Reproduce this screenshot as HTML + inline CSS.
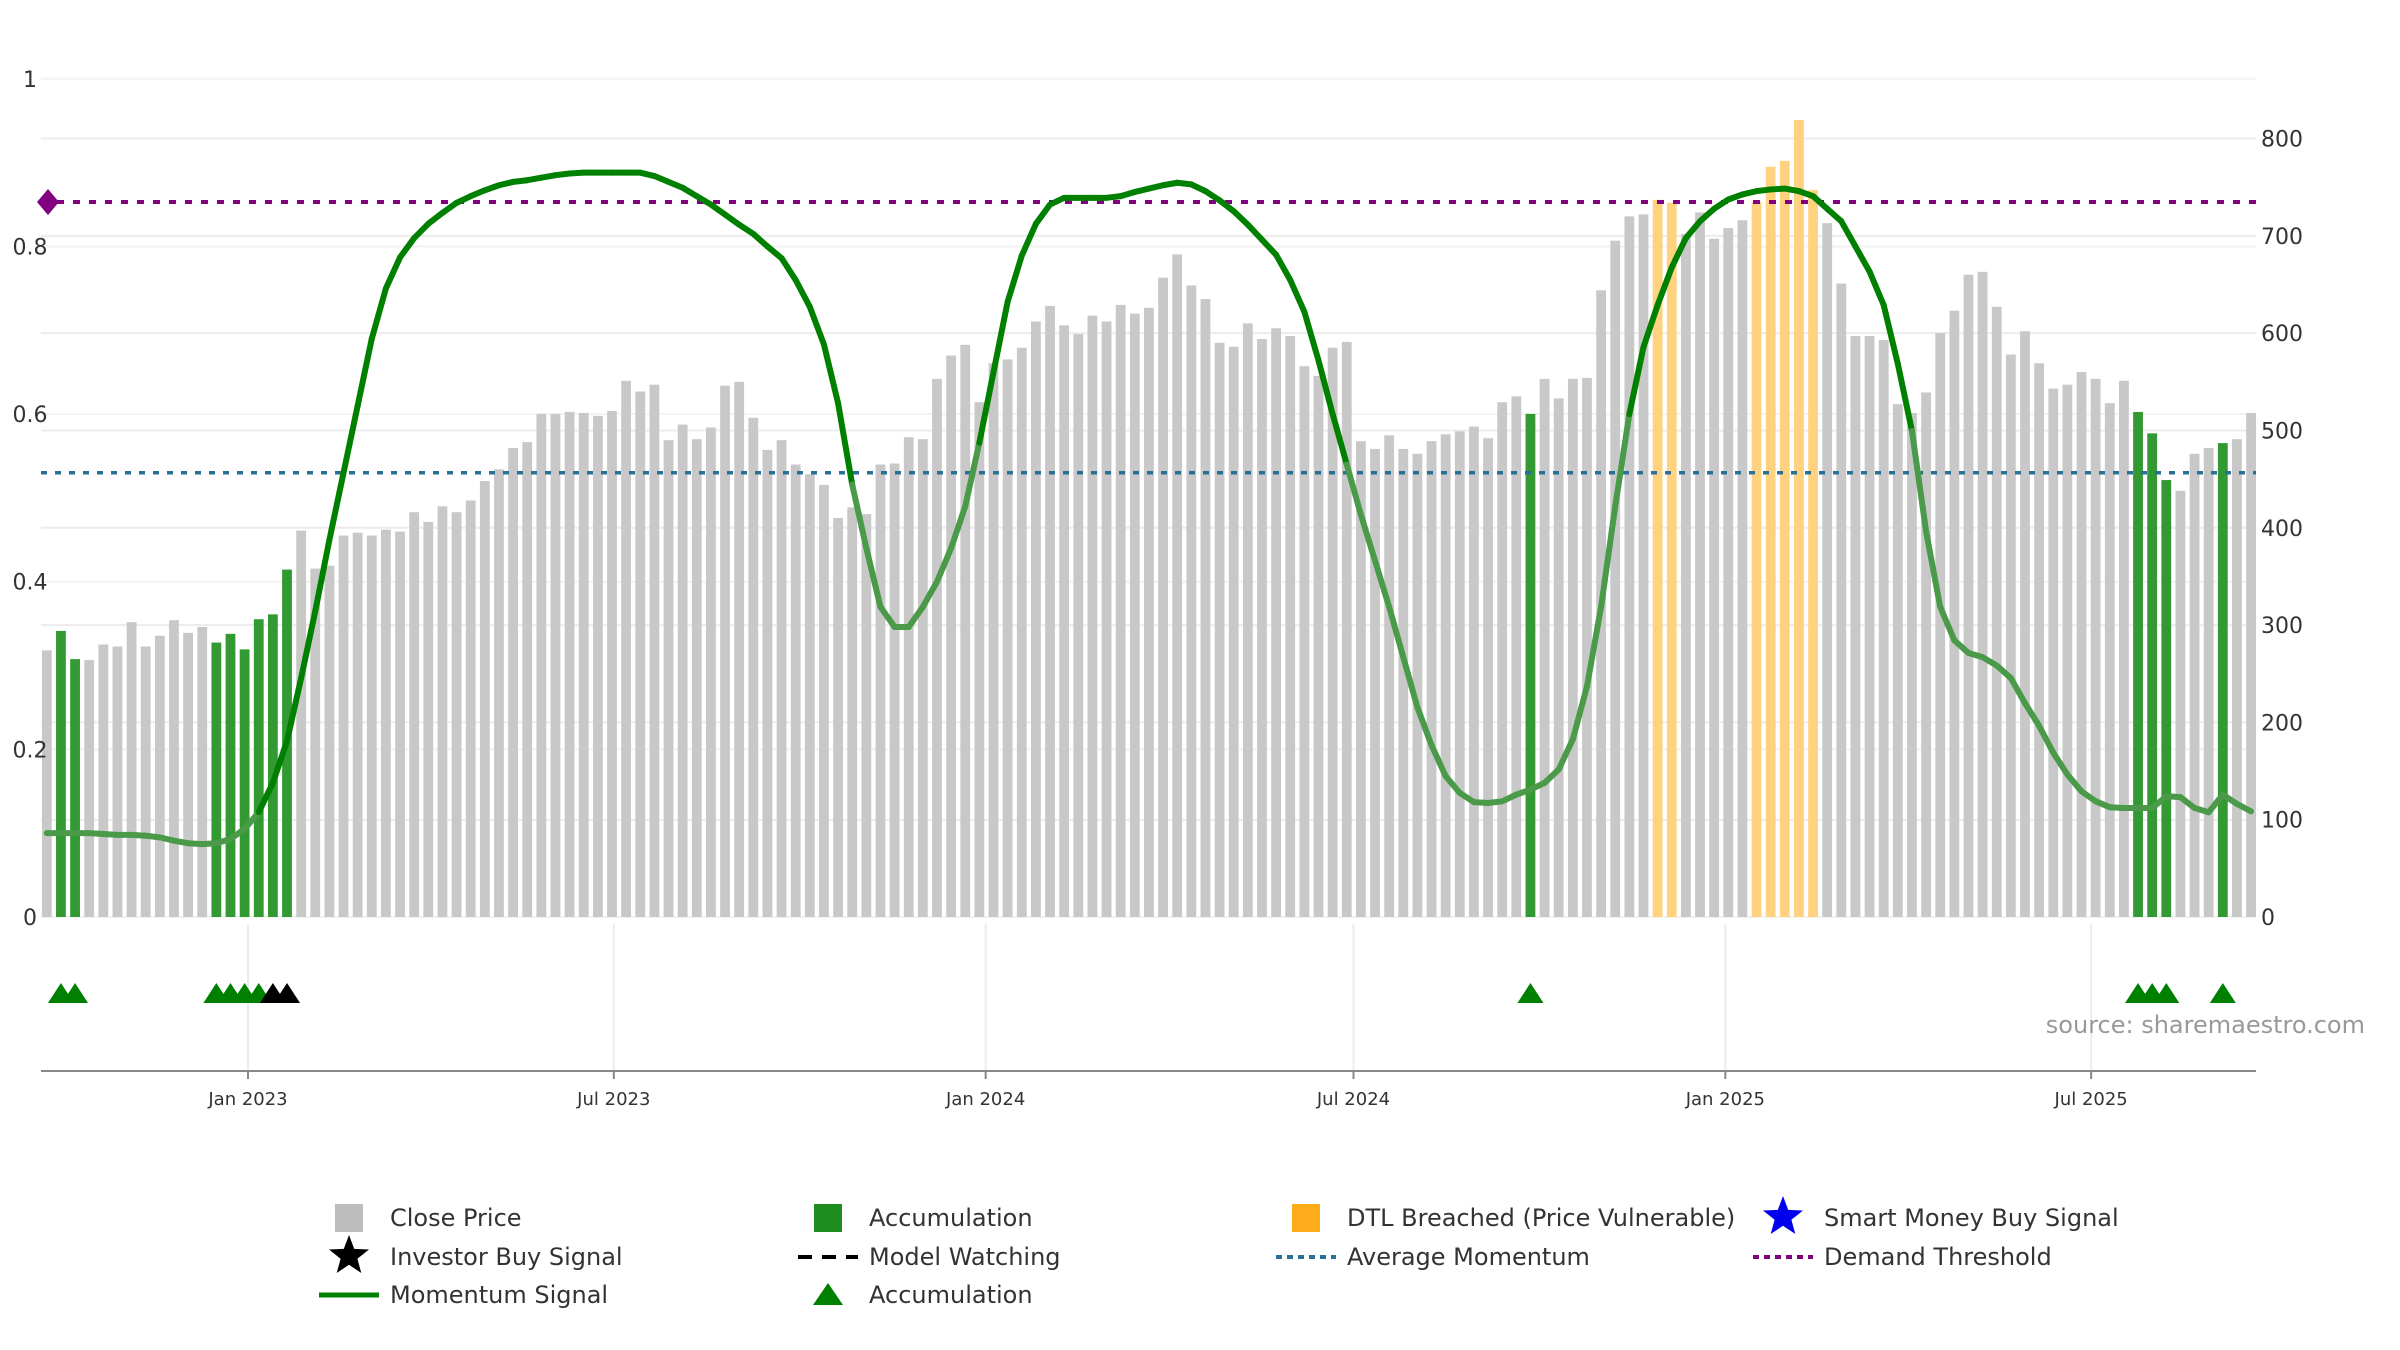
<!DOCTYPE html>
<html><head><meta charset="utf-8">
<style>
html,body{margin:0;padding:0;background:#fff;}
svg{display:block;font-family:"DejaVu Sans","Liberation Sans",sans-serif;}
</style></head>
<body>
<svg id="chart" width="2400" height="1350" viewBox="0 0 2400 1350" xmlns="http://www.w3.org/2000/svg">
<g id="grid"></g>
<g id="bars"></g>
<g id="lines"></g>
<g id="mom"></g>
<g id="lower"></g>
<g id="axes"></g>
<text x="2365" y="1033" text-anchor="end" font-size="24" fill="#999">source: sharemaestro.com</text>
<g id="legend"></g>
</svg>
<script>
const prices = [274,294,265,264,280,278,303,278,289,305,292,298,282,291,275,306,311,357,397,358,
361,392,395,392,398,396,416,406,422,416,428,448,460,482,488,517,517,519,518,515,
520,551,540,547,490,506,491,503,546,550,513,480,490,465,455,444,410,421,414,465,
466,493,491,553,577,588,529,569,573,585,612,628,608,599,618,612,629,620,626,657,
681,649,635,590,586,610,594,605,597,566,556,585,591,489,481,495,481,476,489,496,
499,504,492,529,535,517,553,533,553,554,644,695,720,722,737,734,702,724,697,708,
716,735,771,777,819,747,713,651,597,597,593,527,518,539,600,623,660,663,627,578,
602,569,543,547,560,553,528,551,519,497,449,438,476,482,487,491,518];
const momentum = [0.10,0.10,0.10,0.10,0.099,0.098,0.098,0.097,0.095,0.091,0.088,0.087,0.088,0.093,0.105,0.125,0.16,0.21,0.285,0.365,
0.45,0.53,0.61,0.69,0.75,0.787,0.81,0.827,0.84,0.852,0.86,0.867,0.873,0.877,0.879,0.882,0.885,0.887,0.888,0.888,
0.888,0.888,0.888,0.884,0.877,0.87,0.86,0.85,0.838,0.826,0.815,0.80,0.786,0.76,0.728,0.683,0.613,0.516,0.44,0.37,
0.346,0.346,0.37,0.40,0.44,0.49,0.566,0.65,0.734,0.789,0.827,0.85,0.858,0.858,0.858,0.858,0.86,0.865,0.869,0.873,
0.876,0.874,0.866,0.855,0.842,0.826,0.808,0.79,0.76,0.722,0.664,0.60,0.54,0.48,0.425,0.37,0.31,0.25,0.205,0.168,
0.148,0.137,0.136,0.138,0.146,0.152,0.16,0.176,0.212,0.275,0.37,0.49,0.60,0.68,0.73,0.775,0.81,0.83,0.845,0.856,
0.862,0.866,0.868,0.869,0.866,0.86,0.845,0.83,0.80,0.77,0.73,0.66,0.58,0.46,0.37,0.33,0.315,0.31,0.30,0.285,
0.255,0.228,0.196,0.17,0.15,0.138,0.131,0.13,0.13,0.13,0.144,0.143,0.13,0.125,0.146,0.135,0.126];
const accumBars = [1,2,12,13,14,15,16,17,105,148,149,150,154];
const dtlBars = [114,115,121,122,123,124,125];
const accumTriangles = [1,2,12,13,14,15,105,148,149,150,154];
const investorStars = [16,17];
const priceTicks = [0,100,200,300,400,500,600,700,800];
const momTicks = [0,0.2,0.4,0.6,0.8,1];
const momTickLabels = ["0","0.2","0.4","0.6","0.8","1"];
const dateTickLabels = ["Jan 2023","Jul 2023","Jan 2024","Jul 2024","Jan 2025","Jul 2025"];
const dateTickDays = [0,181,365,547,731,912];
const demandThreshold = 0.853;
const avgMomentum = 0.53;

const NS="http://www.w3.org/2000/svg";
const L=41,R=2256,Y0=917;
const xBar=i=>46.8+14.13*i;
const yP=v=>Y0-v*(Y0-138.5)/800;
const yM=v=>Y0-v*(Y0-78.8);
const xDay=d=>248+d*2.021;
function mk(tag,attrs,parent){const e=document.createElementNS(NS,tag);for(const k in attrs)e.setAttribute(k,attrs[k]);parent.appendChild(e);return e;}
const G=id=>document.getElementById(id);

priceTicks.forEach(v=>{const l=mk('line',{x1:L,x2:R,y1:yP(v),y2:yP(v),stroke:'#ececec','stroke-width':2},G('grid'));

});
momTicks.forEach(v=>{const l=mk('line',{x1:L,x2:R,y1:yM(v),y2:yM(v),stroke:'#f2f2f2','stroke-width':2},G('grid'));

});
dateTickDays.forEach(d=>{const l=mk('line',{x1:xDay(d),x2:xDay(d),y1:924,y2:1071,stroke:'#ececec','stroke-width':2},G('grid'));

});

prices.forEach((v,i)=>{
  let fill='#c8c8c8';
  if(accumBars.includes(i))fill='#339933';
  if(dtlBars.includes(i))fill='#ffd27f';
  const r=mk('rect',{x:xBar(i)-4.9,y:yP(v),width:9.8,height:Y0-yP(v),fill:fill},G('bars'));
  
  
});

const dl=mk('line',{x1:L,x2:R,y1:yM(demandThreshold),y2:yM(demandThreshold),stroke:'#800080','stroke-width':4,'stroke-dasharray':'7 9'},G('lines'));


const dm=mk('path',{d:`M${L+7} ${yM(demandThreshold)-13} l11 13 l-11 13 l-11 -13z`,fill:'#800080'},G('lines'));


const al=mk('line',{x1:L,x2:R,y1:yM(avgMomentum),y2:yM(avgMomentum),stroke:'#2a6f97','stroke-width':3.5,'stroke-dasharray':'6 8'},G('lines'));



for(let i=0;i<momentum.length-1;i++){
  const a=momentum[i],b=momentum[i+1];
  const light=Math.min(a,b)<0.5 && !(i>=15&&i<=20);
  const s=mk('line',{x1:xBar(i),y1:yM(a),x2:xBar(i+1),y2:yM(b),stroke:light?'#4a9a4a':'#008000','stroke-width':6,'stroke-linecap':'round'},G('mom'));
  
  
}

accumTriangles.forEach(i=>{const x=xBar(i);
  const t=mk('path',{d:`M${x-13} 1003 L${x} 983 L${x+13} 1003Z`,fill:'#008000'},G('lower'));
  
  });
investorStars.forEach(i=>{const x=xBar(i);
  const t=mk('path',{d:`M${x-13} 1003 L${x} 983 L${x+13} 1003Z`,fill:'#000'},G('lower'));
  
  });

const xa=mk('line',{x1:L,x2:R,y1:1071,y2:1071,stroke:'#888','stroke-width':2},G('axes'));


priceTicks.forEach(v=>{const t=mk('text',{x:2261,y:yP(v)+8,'font-size':22,fill:'#333'},G('axes'));t.textContent=v;

});
momTicks.forEach((v,k)=>{const t=mk('text',{x:30,y:yM(v)+8,'font-size':22,fill:'#333','text-anchor':'middle'},G('axes'));t.textContent=momTickLabels[k];

});
dateTickDays.forEach((d,k)=>{
  const tk=mk('line',{x1:xDay(d),x2:xDay(d),y1:1071,y2:1079,stroke:'#888','stroke-width':2},G('axes'));
  
  
  const t=mk('text',{x:xDay(d),y:1105,'font-size':18,fill:'#333','text-anchor':'middle'},G('axes'));t.textContent=dateTickLabels[k];
  
  });

const lg=G('legend');
function star(cx,cy,r,fill){let p='';for(let k=0;k<10;k++){const rr=k%2?r*0.42:r;const a=-Math.PI/2+k*Math.PI/5;p+=(k?'L':'M')+(cx+rr*Math.cos(a)).toFixed(1)+' '+(cy+rr*Math.sin(a)).toFixed(1);}return mk('path',{d:p+'Z',fill:fill},lg);}
const cols=[349,828,1306,1783],rows=[1218,1257,1295];
const items=[
 [0,0,'sq','#bdbdbd','Close Price','legend-close-price'],
 [1,0,'sq','#1f8c1f','Accumulation','legend-accumulation-bar'],
 [2,0,'sq','#ffab1a','DTL Breached (Price Vulnerable)','legend-dtl-breached'],
 [3,0,'star','#0000ee','Smart Money Buy Signal','legend-smart-money'],
 [0,1,'star','#000','Investor Buy Signal','legend-investor-buy'],
 [1,1,'dash','#000','Model Watching','legend-model-watching'],
 [2,1,'dot','#2a6f97','Average Momentum','legend-average-momentum'],
 [3,1,'dot','#800080','Demand Threshold','legend-demand-threshold'],
 [0,2,'line','#008000','Momentum Signal','legend-momentum-signal'],
 [1,2,'tri','#008000','Accumulation','legend-accumulation-triangle']];
items.forEach(it=>{
  const cx=cols[it[0]],cy=rows[it[1]];let ic;
  if(it[2]==='sq')ic=mk('rect',{x:cx-14,y:cy-14,width:28,height:28,fill:it[3]},lg);
  else if(it[2]==='star')ic=star(cx,cy-1,21,it[3]);
  else if(it[2]==='dash')ic=mk('line',{x1:cx-30,x2:cx+30,y1:cy,y2:cy,stroke:it[3],'stroke-width':4,'stroke-dasharray':'14 10'},lg);
  else if(it[2]==='dot')ic=mk('line',{x1:cx-30,x2:cx+30,y1:cy,y2:cy,stroke:it[3],'stroke-width':4,'stroke-dasharray':'6 5'},lg);
  else if(it[2]==='line')ic=mk('line',{x1:cx-30,x2:cx+30,y1:cy,y2:cy,stroke:it[3],'stroke-width':5},lg);
  else ic=mk('path',{d:`M${cx-15} ${cy+10} L${cx} ${cy-12} L${cx+15} ${cy+10}Z`,fill:it[3]},lg);
  
  
  const t=mk('text',{x:cx+41,y:cy+8,'font-size':24,fill:'#333'},lg);t.textContent=it[4];
  
  
});
</script>
</body></html>
